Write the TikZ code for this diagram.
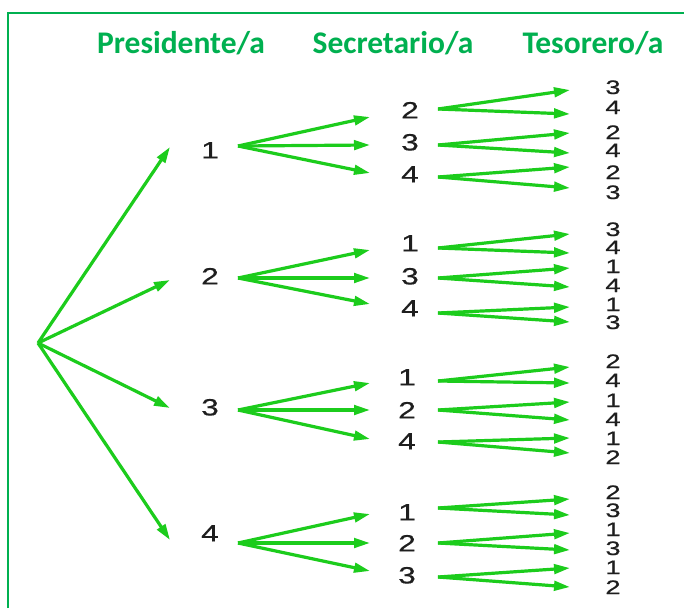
\documentclass[tikz,border=0pt]{standalone}
\usepackage{fontspec}
\usepackage{graphicx}
\setmainfont{Liberation Sans}
\newfontfamily\headfont{Carlito}
\newfontfamily\digitfont[FakeBold=0.5]{Liberation Sans}
\usetikzlibrary{arrows.meta}
\definecolor{headgreen}{RGB}{0,176,80}
\definecolor{arrgreen}{RGB}{28,204,28}
\definecolor{digitgray}{RGB}{30,30,30}
\newcommand{\widemid}[1]{\scalebox{1.35}[1]{#1}}
\newcommand{\wideend}[1]{\scalebox{1.4}[1]{#1}}
\tikzset{
  header/.style={font=\headfont\bfseries\fontsize{31.5}{31.5}\selectfont, text=headgreen, anchor=base, inner sep=0pt},
  midnum/.style={font=\digitfont\fontsize{23.5}{23.5}\selectfont, text=digitgray, inner sep=0pt, text height=16.8pt, text depth=0pt},
  endnum/.style={font=\digitfont\fontsize{19.5}{19.5}\selectfont, text=digitgray, inner sep=0pt, text height=14pt, text depth=0pt},
  arr/.style={draw=arrgreen, line width=3.2pt, -{Triangle[length=16pt,width=9.5pt]}},
  frame/.style={draw=headgreen, line width=1.6pt}
}
\begin{document}
\begin{tikzpicture}[x=1pt,y=-1pt]
\useasboundingbox (0,0) rectangle (684,608);
\fill[white] (0,0) rectangle (684,608);
% frame
\coordinate (fb) at (8,608);
\coordinate (fc) at (8,13);
\coordinate (fr) at (684,13);
\draw[frame] (fb) -- (fc) -- (fr);
% headers
\node[header] (h1) at (181,53) {Presidente/a};
\node[header] (h2) at (393,53) {Secretario/a};
\node[header] (h3) at (593,53) {Tesorero/a};
\begin{scope}
\clip (0,0) rectangle (684,594);
% root
\coordinate (root) at (38,343);
% level 1
\foreach \i/\y/\ey/\sy/\t in {1/150/147/146/1, 2/276/280/278/2, 3/407/408/410/3, 4/533/540/543/4} {
  \node[midnum] (p\i) at (210,\y) {\widemid{\t}};
  \coordinate (pin\i) at (170,\ey);
  \coordinate (pout\i) at (238,\sy);
  \draw[arr] (root) -- (pin\i);
}
% level 2: group/index/number-x/number-y/arrow-end-y/label/level-3 start y
\foreach \g/\j/\x/\y/\ey/\t/\sy in {
  1/1/410/110/117/2/109, 1/2/410/142/145/3/145, 1/3/410/174/173/4/177,
  2/1/410/243/250/1/248, 2/2/410/276/278/3/278, 2/3/410/308/304/4/313,
  3/1/407/377/383/1/381, 3/2/407/410/410/2/410, 3/3/407/441/439/4/442,
  4/1/407/512/514/1/508, 4/2/407/543/543/2/543, 4/3/407/575/571/3/577} {
  \node[midnum] (s\g\j) at (\x,\y) {\widemid{\t}};
  \coordinate (sin\g\j) at (370,\ey);
  \coordinate (sout\g\j) at (438,\sy);
  \draw[arr] (pout\g) -- (sin\g\j);
}
% level 3: group/sub/k/number-y/arrow-end-y/label
\foreach \g/\j/\k/\y/\ey/\t in {
  1/1/1/87/90/3, 1/1/2/107/114/4, 1/2/1/132/133/2, 1/2/2/150/153/4, 1/3/1/172/167/2, 1/3/2/192/188/3,
  2/1/1/229/234/3, 2/1/2/247/253/4, 2/2/1/266/268/1, 2/2/2/285/287/4, 2/3/1/304/307/1, 2/3/2/322/322/3,
  3/1/1/361/367/2, 3/1/2/380/383/4, 3/2/1/400/402/1, 3/2/2/419/420/4, 3/3/1/438/438/1, 3/3/2/457/453/2,
  4/1/1/492/499/2, 4/1/2/510/515/3, 4/2/1/529/533/1, 4/2/2/548/550/3, 4/3/1/567/568/1, 4/3/2/587/587/2} {
  \node[endnum] (t\g\j\k) at (613,\y) {\wideend{\t}};
  \coordinate (tin\g\j\k) at (570,\ey);
  \draw[arr] (sout\g\j) -- (tin\g\j\k);
}
\end{scope}
\end{tikzpicture}
\end{document}
